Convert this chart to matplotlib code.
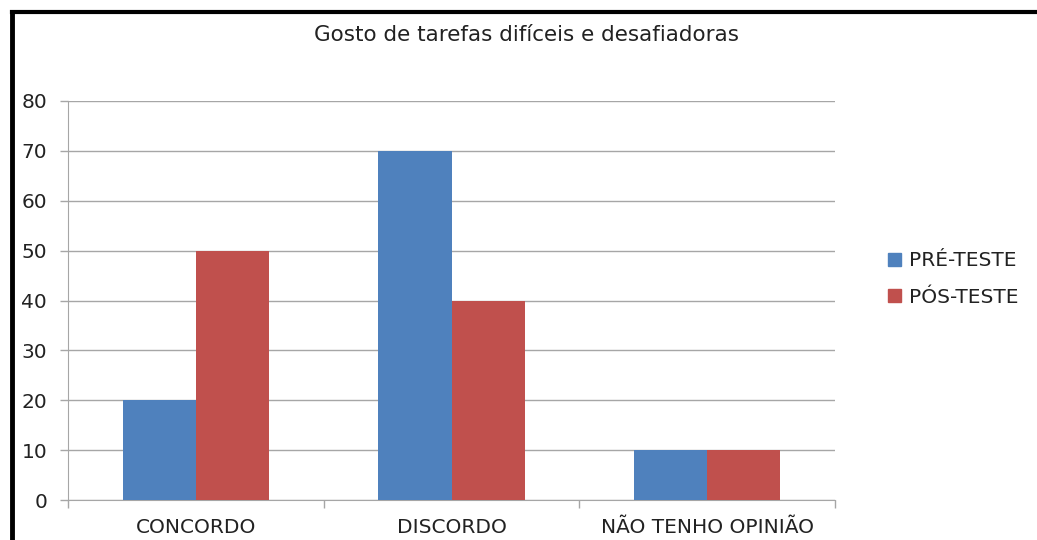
import numpy as np
import matplotlib.pyplot as plt
from matplotlib.lines import Line2D
from matplotlib.patches import Patch

categories = ['CONCORDO', 'DISCORDO', 'NÃO TENHO OPINIÃO']
pre_teste = [20, 70, 10]
pos_teste = [50, 40, 10]
series_names = ['PRÉ-TESTE', 'PÓS-TESTE']
title = 'Gosto de tarefas difíceis e desafiadoras'

plt.rcParams['font.family'] = ['DejaVu Sans']

fig = plt.figure(figsize=(10.37, 5.4), dpi=100)
ax = fig.add_axes([68/1037, 1 - 500/540, (835 - 68)/1037, (500 - 101)/540])

blue = '#4f81bd'
red = '#c0504d'
grid_c = '#a6a6a6'

x = np.arange(len(categories))
w = 1 / 3.5
ax.bar(x - w/2, pre_teste, w, color=blue, zorder=3)
ax.bar(x + w/2, pos_teste, w, color=red, zorder=3)

ax.set_xlim(-0.5, len(categories) - 0.5)
ax.set_ylim(0, 80)
ax.set_yticks(range(0, 81, 10))
ax.yaxis.grid(True, color=grid_c, linewidth=1, zorder=0)

# category boundaries as tick marks, labels at centers
ax.set_xticks(np.arange(-0.5, len(categories)), minor=False)
ax.set_xticklabels([])
ax.set_xticks(x, minor=True)
ax.set_xticklabels(categories, minor=True)
ax.tick_params(axis='x', which='major', length=6, color=grid_c, width=1)
ax.tick_params(axis='x', which='minor', length=0, pad=13, labelsize=14.5, colors='#222222')
ax.tick_params(axis='y', length=6, color=grid_c, width=1, pad=9, labelsize=14.5, colors='#222222')
ax.tick_params(axis='y', color=grid_c)

for s in ['top', 'right']:
    ax.spines[s].set_visible(False)
ax.spines['left'].set_color(grid_c)
ax.spines['bottom'].set_color(grid_c)

fig.text(527/1037, 1 - 35/540, title, ha='center', va='center', fontsize=15.5, color='#222222')

handles = [Patch(color=blue), Patch(color=red)]
fig.legend(handles, series_names, loc='center left', bbox_to_anchor=(870/1037, 1 - 279/540),
           frameon=False, fontsize=14.5, handlelength=0.65, handleheight=0.65,
           handletextpad=0.4, labelspacing=0.85, labelcolor='#222222')

# outer frame (left and top)
fig.add_artist(Line2D([11.5/1037, 11.5/1037], [0, 1 - 11.5/540], transform=fig.transFigure,
                      color='black', linewidth=3.5))
fig.add_artist(Line2D([11.5/1037, 1], [1 - 11.5/540, 1 - 11.5/540], transform=fig.transFigure,
                      color='black', linewidth=3))

fig.savefig('out.png', dpi=100)
